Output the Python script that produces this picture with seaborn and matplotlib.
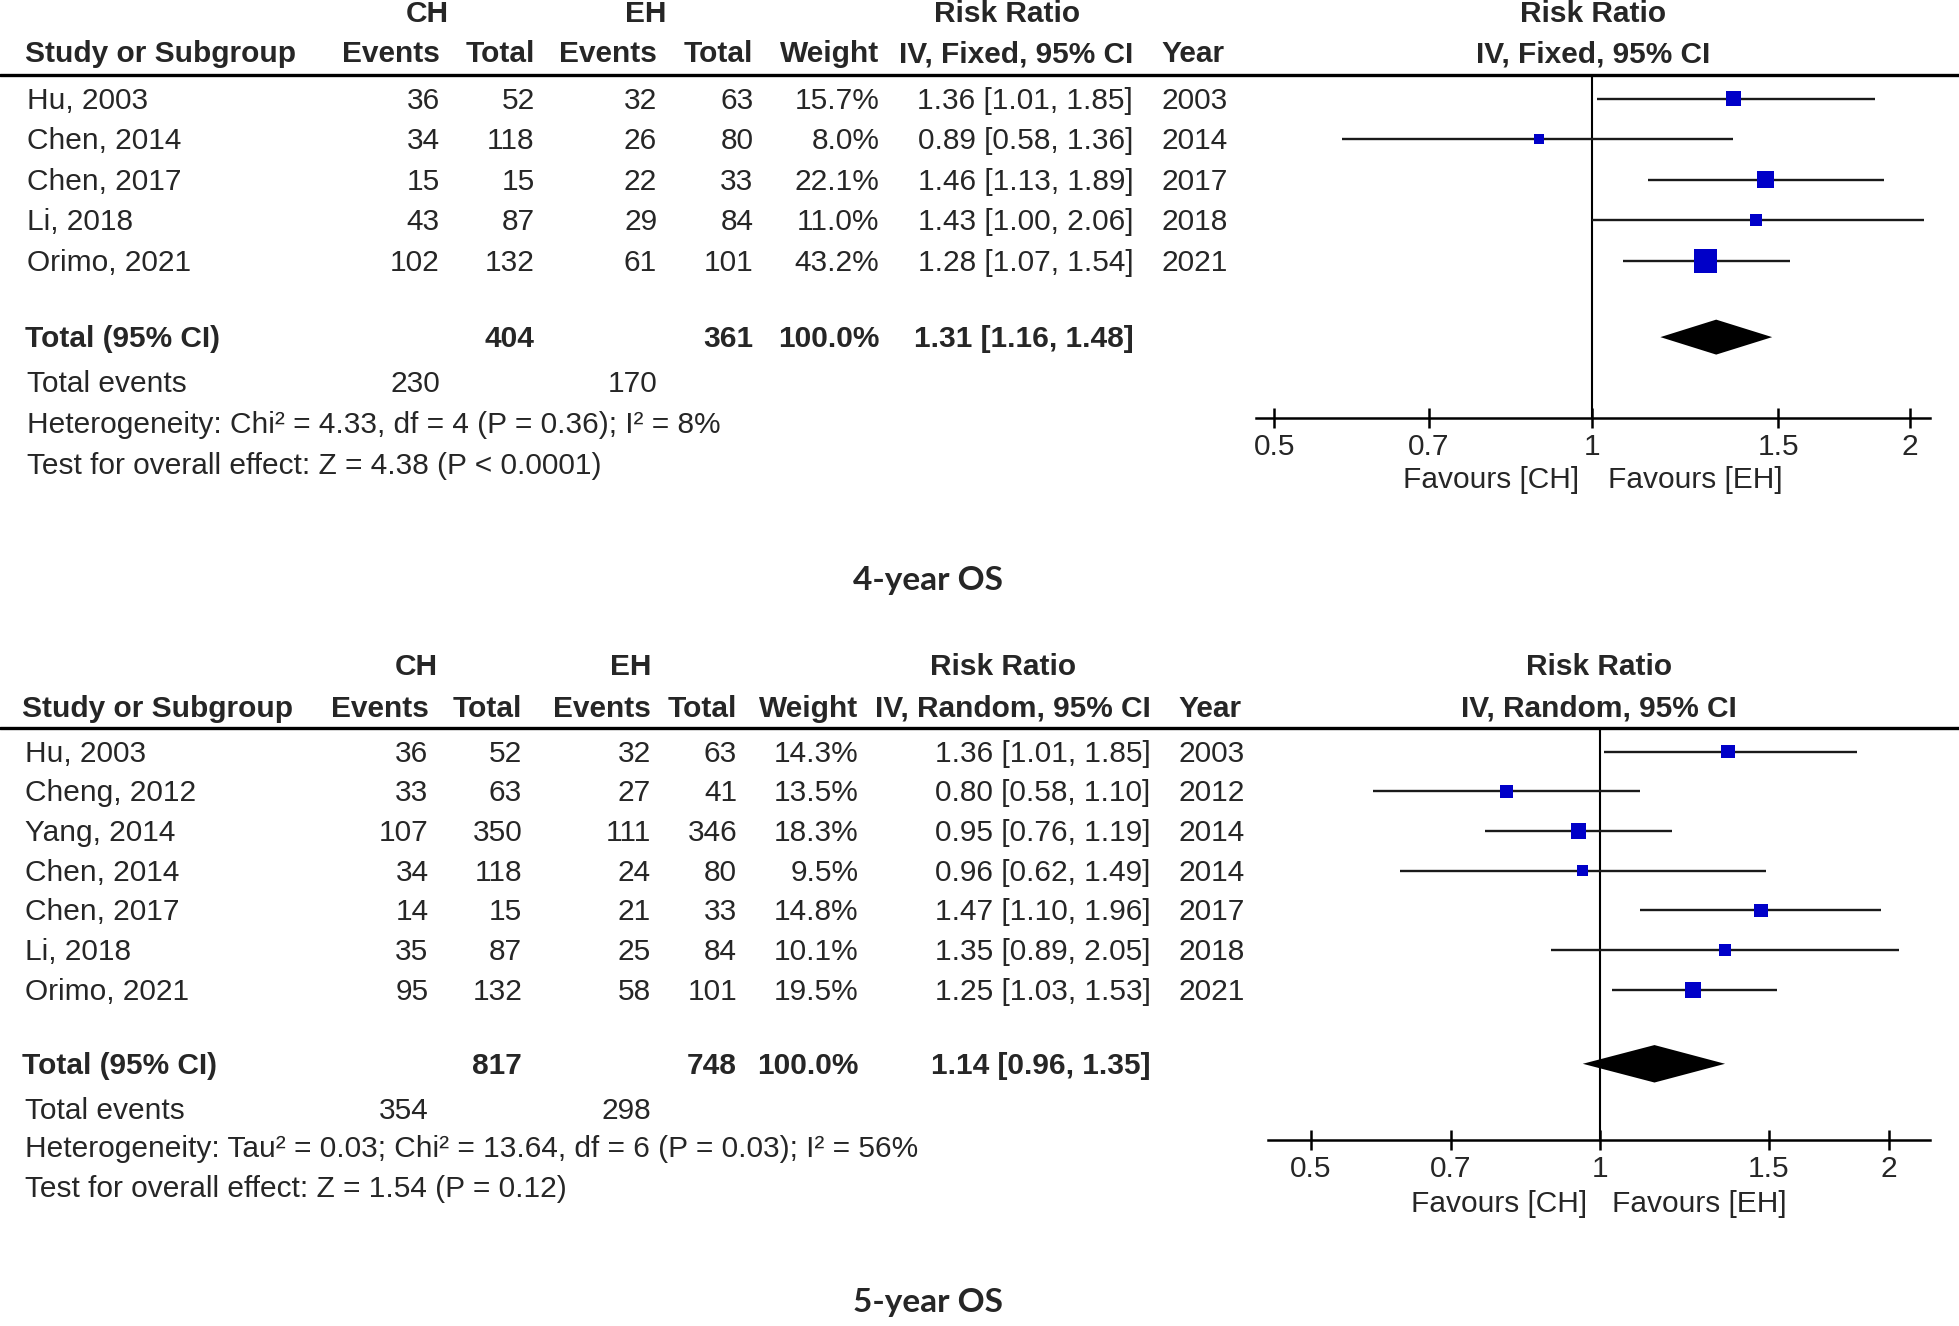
import numpy as np
import pandas as pd
import matplotlib
matplotlib.use("Agg")
import matplotlib.pyplot as plt
from matplotlib.ticker import NullLocator
import seaborn as sns

# ---- data: 4-year OS (fixed effect) ----
studies4 = ["Hu, 2003", "Chen, 2014", "Chen, 2017", "Li, 2018", "Orimo, 2021"]
ch_events4 = [36, 34, 15, 43, 102]
ch_total4 = [52, 118, 15, 87, 132]
eh_events4 = [32, 26, 22, 29, 61]
eh_total4 = [63, 80, 33, 84, 101]
weight4 = [15.7, 8.0, 22.1, 11.0, 43.2]
rr4 = [1.36, 0.89, 1.46, 1.43, 1.28]
lo4 = [1.01, 0.58, 1.13, 1.00, 1.07]
hi4 = [1.85, 1.36, 1.89, 2.06, 1.54]
year4 = [2003, 2014, 2017, 2018, 2021]
pooled4 = [1.31, 1.16, 1.48]
hetero4 = "Heterogeneity: Chi\u00b2 = 4.33, df = 4 (P = 0.36); I\u00b2 = 8%"
effect4 = "Test for overall effect: Z = 4.38 (P < 0.0001)"

# ---- data: 5-year OS (random effects) ----
studies5 = ["Hu, 2003", "Cheng, 2012", "Yang, 2014", "Chen, 2014",
            "Chen, 2017", "Li, 2018", "Orimo, 2021"]
ch_events5 = [36, 33, 107, 34, 14, 35, 95]
ch_total5 = [52, 63, 350, 118, 15, 87, 132]
eh_events5 = [32, 27, 111, 24, 21, 25, 58]
eh_total5 = [63, 41, 346, 80, 33, 84, 101]
weight5 = [14.3, 13.5, 18.3, 9.5, 14.8, 10.1, 19.5]
rr5 = [1.36, 0.80, 0.95, 0.96, 1.47, 1.35, 1.25]
lo5 = [1.01, 0.58, 0.76, 0.62, 1.10, 0.89, 1.03]
hi5 = [1.85, 1.10, 1.19, 1.49, 1.96, 2.05, 1.53]
year5 = [2003, 2012, 2014, 2014, 2017, 2018, 2021]
pooled5 = [1.14, 0.96, 1.35]
hetero5 = "Heterogeneity: Tau\u00b2 = 0.03; Chi\u00b2 = 13.64, df = 6 (P = 0.03); I\u00b2 = 56%"
effect5 = "Test for overall effect: Z = 1.54 (P = 0.12)"

tick_vals = [0.5, 0.7, 1, 1.5, 2]
tick_labels = ["0.5", "0.7", "1", "1.5", "2"]

sns.set_style("white")
plt.rcParams["font.family"] = ["Liberation Sans", "DejaVu Sans"]

W, H = 1568, 1062   # layout units
FS = 21.5
BLUE = "#0000c8"

fig = plt.figure(figsize=(19.59, 13.26), dpi=100)
bg = fig.add_axes([0, 0, 1, 1])
bg.set_xlim(0, W)
bg.set_ylim(H, 0)
bg.axis("off")


def txt(x, y, s, ha="left", bold=False, **kw):
    bg.text(x, y + 1.5, s, ha=ha, va="center", fontsize=FS,
            fontweight="bold" if bold else "normal", **kw)


def panel(studies, ch_ev, ch_tot, eh_ev, eh_tot, weight, rr, lo, hi, year,
          pooled, hetero, effect, method, title, L):
    c = L["cols"]
    # headers
    txt(c["ch"], L["h1"], "CH", ha="center", bold=True)
    txt(c["eh"], L["h1"], "EH", ha="center", bold=True)
    txt(c["rrc"], L["h1"], "Risk Ratio", ha="center", bold=True)
    txt(L["plotc"], L["h1"], "Risk Ratio", ha="center", bold=True)
    txt(c["name"] - 2, L["h2"], "Study or Subgroup", bold=True)
    txt(c["ev1"], L["h2"], "Events", ha="right", bold=True)
    txt(c["tot1"], L["h2"], "Total", ha="right", bold=True)
    txt(c["ev2"], L["h2"], "Events", ha="right", bold=True)
    txt(c["tot2"], L["h2"], "Total", ha="right", bold=True)
    txt(c["wt"], L["h2"], "Weight", ha="right", bold=True)
    txt(c["rr"], L["h2"], method, ha="right", bold=True)
    txt(c["year"], L["h2"], "Year", bold=True)
    txt(L["plotc"], L["h2"], method, ha="center", bold=True)
    bg.plot([0, W], [L["line"], L["line"]], color="black", lw=2.4)

    ys = [L["row0"] + i * L["pitch"] for i in range(len(studies))]
    for i, y in enumerate(ys):
        txt(c["name"], y, studies[i])
        txt(c["ev1"], y, str(ch_ev[i]), ha="right")
        txt(c["tot1"], y, str(ch_tot[i]), ha="right")
        txt(c["ev2"], y, str(eh_ev[i]), ha="right")
        txt(c["tot2"], y, str(eh_tot[i]), ha="right")
        txt(c["wt"], y, f"{weight[i]:.1f}%", ha="right")
        txt(c["rr"], y, f"{rr[i]:.2f} [{lo[i]:.2f}, {hi[i]:.2f}]", ha="right")
        txt(c["year"], y, str(year[i]))

    ty = L["total"]
    txt(c["name"] - 2, ty, "Total (95% CI)", bold=True)
    txt(c["tot1"], ty, str(sum(ch_tot)), ha="right", bold=True)
    txt(c["tot2"], ty, str(sum(eh_tot)), ha="right", bold=True)
    txt(c["wt"], ty, f"{sum(weight):.1f}%", ha="right", bold=True)
    txt(c["rr"], ty, f"{pooled[0]:.2f} [{pooled[1]:.2f}, {pooled[2]:.2f}]",
        ha="right", bold=True)
    txt(c["name"], L["events"], "Total events")
    txt(c["ev1"], L["events"], str(sum(ch_ev)), ha="right")
    txt(c["ev2"], L["events"], str(sum(eh_ev)), ha="right")
    txt(c["name"], L["het"], hetero)
    txt(c["name"], L["test"], effect)
    bg.text(743, L["title"], title, ha="center", va="center", fontsize=24,
            fontweight="bold", family=["Lato", "DejaVu Sans"])

    # forest plot axes
    x0, x1 = L["axis_x"]
    p05, p2 = L["ticks_px"]
    scale = (p2 - p05) / np.log(4)
    xlim = (0.5 * np.exp((x0 - p05) / scale), 0.5 * np.exp((x1 - p05) / scale))
    ay = L["axis_y"]
    ax = fig.add_axes([x0 / W, 1 - ay / H, (x1 - x0) / W, (ay - L["line"]) / H])
    ax.patch.set_visible(False)

    df = pd.DataFrame({"rr": rr, "lo": lo, "hi": hi, "y": ys, "weight": weight})
    ax.hlines(df["y"], df["lo"], df["hi"], color="#1a1a1a", lw=1.7, zorder=2)
    sns.scatterplot(data=df, x="rr", y="y", size="weight", sizes=(0, 680),
                    size_norm=(0, 100), marker="s", color=BLUE, linewidth=0,
                    legend=False, ax=ax, zorder=3)
    dh = L["dh"]
    ax.fill([pooled[1], pooled[0], pooled[2], pooled[0]],
            [ty, ty - dh, ty, ty + dh], color="black", lw=0, zorder=3)
    ax.axvline(1, color="black", lw=1.5, zorder=1)

    ax.set_xscale("log")
    ax.set_xlim(*xlim)
    ax.set_ylim(ay, L["line"])
    ax.set_xticks(tick_vals)
    ax.set_xticklabels(tick_labels)
    ax.xaxis.set_minor_locator(NullLocator())
    ax.set_yticks([])
    ax.set_xlabel("")
    ax.set_ylabel("")
    for s in ["left", "right", "top"]:
        ax.spines[s].set_visible(False)
    ax.spines["bottom"].set_linewidth(1.8)
    ax.spines["bottom"].set_color("black")
    ax.tick_params(axis="x", bottom=True, direction="inout", length=15,
                   width=1.8, labelsize=FS, pad=3, color="black")

    txt(L["fav"][0], L["fav_y"], "Favours [CH]", ha="right")
    txt(L["fav"][1], L["fav_y"], "Favours [EH]")


layout4 = dict(h1=10, h2=42, line=60, row0=79, pitch=32.5, total=270,
               events=306, het=339, test=372, title=465, axis_y=335,
               axis_x=(1005, 1545), ticks_px=(1020, 1529), plotc=1275,
               fav=(1264, 1287), fav_y=383, dh=14,
               cols=dict(name=22, ev1=352, tot1=428, ev2=526, tot2=603,
                         wt=704, rr=907, year=930, ch=342, eh=517, rrc=806))
layout5 = dict(h1=533, h2=566, line=583, row0=602, pitch=31.8, total=852,
               events=888, het=919, test=951, title=1043, axis_y=913,
               axis_x=(1015, 1545), ticks_px=(1049, 1512), plotc=1280,
               fav=(1270, 1290), fav_y=963, dh=15,
               cols=dict(name=20, ev1=343, tot1=418, ev2=521, tot2=590,
                         wt=687, rr=921, year=943, ch=333, eh=505, rrc=803))

panel(studies4, ch_events4, ch_total4, eh_events4, eh_total4, weight4, rr4,
      lo4, hi4, year4, pooled4, hetero4, effect4, "IV, Fixed, 95% CI",
      "4-year OS", layout4)
panel(studies5, ch_events5, ch_total5, eh_events5, eh_total5, weight5, rr5,
      lo5, hi5, year5, pooled5, hetero5, effect5, "IV, Random, 95% CI",
      "5-year OS", layout5)

fig.savefig("out.png", dpi=100)
